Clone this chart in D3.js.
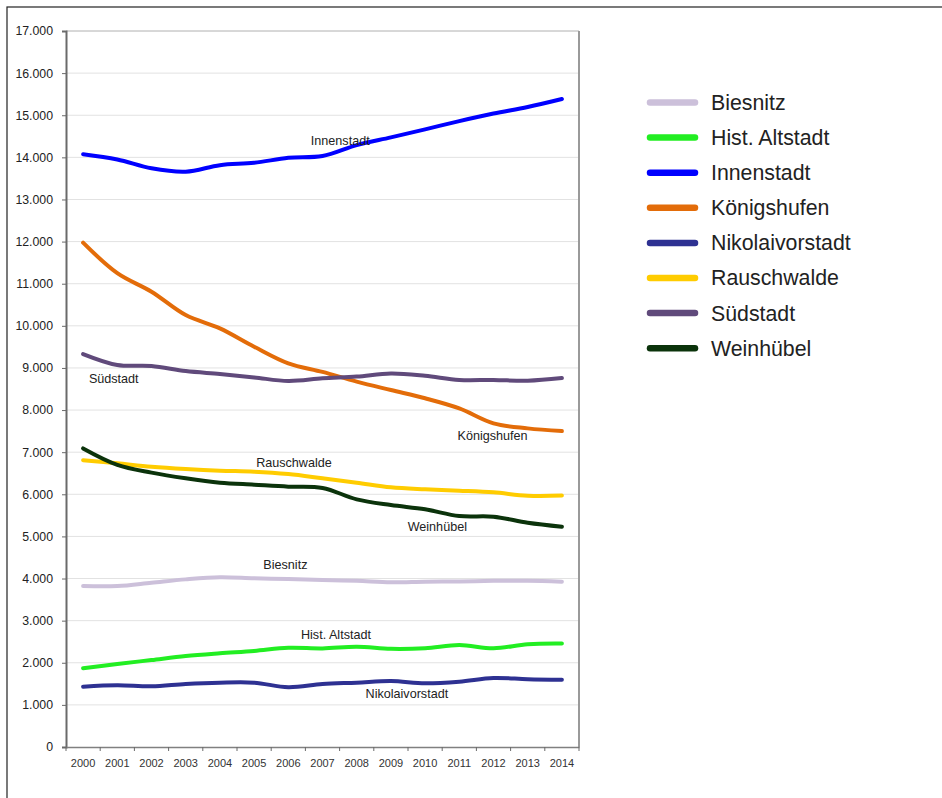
<!DOCTYPE html>
<html><head><meta charset="utf-8">
<script src="https://cdn.jsdelivr.net/npm/d3@7/dist/d3.min.js"></script>
<style>
body{margin:0;background:#fff;}
text{font-family:Arial,"Liberation Sans",sans-serif;}
</style></head>
<body><svg id="c" width="942" height="798"></svg>
<script>
const years = [2000,2001,2002,2003,2004,2005,2006,2007,2008,2009,2010,2011,2012,2013,2014];
const seriesNames = ["Biesnitz","Hist. Altstadt","Innenstadt","Königshufen","Nikolaivorstadt","Rauschwalde","Südstadt","Weinhübel"];
const biesnitz       = [3822,3822,3900,3980,4030,4005,3990,3965,3945,3910,3925,3930,3945,3945,3925];
const histAltstadt   = [1870,1970,2065,2160,2225,2280,2355,2340,2380,2330,2345,2420,2345,2440,2455];
const innenstadt     = [14075,13950,13740,13660,13815,13870,13990,14030,14290,14475,14665,14860,15040,15195,15385];
const koenigshufen   = [11975,11250,10810,10255,9940,9505,9110,8905,8675,8475,8280,8040,7685,7565,7500];
const nikolaivorst   = [1432,1464,1440,1496,1527,1527,1420,1496,1527,1565,1512,1551,1640,1607,1595];
const rauschwalde    = [6810,6735,6655,6600,6560,6537,6480,6380,6276,6165,6118,6086,6046,5967,5970];
const suedstadt      = [9330,9070,9045,8925,8855,8775,8690,8753,8795,8870,8815,8715,8715,8697,8760];
const weinhuebel     = [7090,6700,6515,6380,6276,6228,6181,6150,5880,5745,5643,5484,5468,5326,5231];
const seriesColors = ["#ccc0da","#22ee22","#0000ff","#e36c09","#2e3192","#ffcc00","#604a7b","#0b330b"];
const yTicks = [0,1000,2000,3000,4000,5000,6000,7000,8000,9000,10000,11000,12000,13000,14000,15000,16000,17000];
// in-chart labels anchored in data units: [name, year position, value]
const labelNames  = ["Innenstadt","Südstadt","Königshufen","Rauschwalde","Weinhübel","Biesnitz","Hist. Altstadt","Nikolaivorstadt"];
const labelYears  = [2006.66,2000.17,2010.95,2005.06,2009.49,2005.27,2006.37,2008.26];
const labelValues = [14400,8754,7391,6750,5230,4321,2659,1275];

const values = [biesnitz,histAltstadt,innenstadt,koenigshufen,nikolaivorst,rauschwalde,suedstadt,weinhuebel];
const series = seriesNames.map((n,i)=>({name:n,color:seriesColors[i],vals:values[i]}));

const svg = d3.select("#c");
const L=66,R=579,T=31,B=747;
// outer frame
svg.append("rect").attr("x",7).attr("y",7).attr("width",960).attr("height",820)
  .attr("fill","none").attr("stroke","#222").attr("stroke-width",1.2);

const x = d3.scaleBand().domain(years).range([L,R]).paddingInner(0).paddingOuter(0);
const y = d3.scaleLinear().domain([0,17000]).range([B,T]);
const xc = v => x(Math.floor(v)) + x.bandwidth()/2 + (v-Math.floor(v))*x.step();

const loc = d3.formatLocale({decimal:",",thousands:".",grouping:[3],currency:["","€"]});
const fmt = loc.format(",d");

// gridlines
svg.append("g").selectAll("line").data(yTicks.filter(d=>d>0&&d<17000)).join("line")
  .attr("x1",L).attr("x2",R).attr("y1",d=>y(d)).attr("y2",d=>y(d))
  .attr("stroke","#e2e2e2").attr("stroke-width",1);
// top border and right border
svg.append("line").attr("x1",L).attr("x2",R).attr("y1",T).attr("y2",T).attr("stroke","#b0b0b0").attr("stroke-width",1);
svg.append("line").attr("x1",R).attr("x2",R).attr("y1",T).attr("y2",B).attr("stroke","#9a9a9a").attr("stroke-width",2);

// y axis
const ya = svg.append("g").attr("transform",`translate(${L},0)`)
  .call(d3.axisLeft(y).tickValues(yTicks).tickFormat(fmt).tickSize(4).tickPadding(9));
ya.select(".domain").attr("stroke","#6a6a6a").attr("stroke-width",2);
ya.selectAll(".tick line").attr("stroke","#6a6a6a");
ya.selectAll("text").attr("font-size",12.3).attr("fill","#222").style("font-family","Arial, 'Liberation Sans', sans-serif");

// x axis
const xa = svg.append("g").attr("transform",`translate(0,${B})`)
  .call(d3.axisBottom(x).tickSize(0).tickPadding(12));
xa.select(".domain").attr("stroke","#808080").attr("stroke-width",1.5);
xa.selectAll("text").attr("font-size",11).attr("fill","#333").style("font-family","Arial, 'Liberation Sans', sans-serif");
svg.append("g").selectAll("line").data(d3.range(years.length+1)).join("line")
  .attr("x1",i=>L+i*x.step()).attr("x2",i=>L+i*x.step()).attr("y1",B).attr("y2",B+4)
  .attr("stroke","#6a6a6a").attr("stroke-width",1);

// lines
const line = d3.line().x((d,i)=>x(years[i])+x.bandwidth()/2).y(d=>y(d)).curve(d3.curveCatmullRom.alpha(0.5));
svg.append("g").selectAll("path").data(series).join("path")
  .attr("d",d=>line(d.vals)).attr("fill","none").attr("stroke",d=>d.color)
  .attr("stroke-width",4).attr("stroke-linecap","round").attr("stroke-linejoin","round");

// in-chart labels
svg.append("g").selectAll("text").data(labelNames).join("text")
  .attr("x",(d,i)=>xc(labelYears[i])).attr("y",(d,i)=>y(labelValues[i])).attr("dy","0.35em")
  .attr("font-size",12.6).attr("fill","#222").text(d=>d);

// legend
const lg = svg.append("g");
const ly0=102.5, lstep=35.1;
series.forEach((s,i)=>{
  const yy = ly0+i*lstep;
  lg.append("line").attr("x1",650).attr("x2",695).attr("y1",yy).attr("y2",yy)
    .attr("stroke",s.color).attr("stroke-width",6.5).attr("stroke-linecap","round");
  lg.append("text").attr("x",711).attr("y",yy).attr("dy","0.35em").attr("font-size",21.3)
    .attr("fill","#222").text(s.name);
});
</script></body></html>
